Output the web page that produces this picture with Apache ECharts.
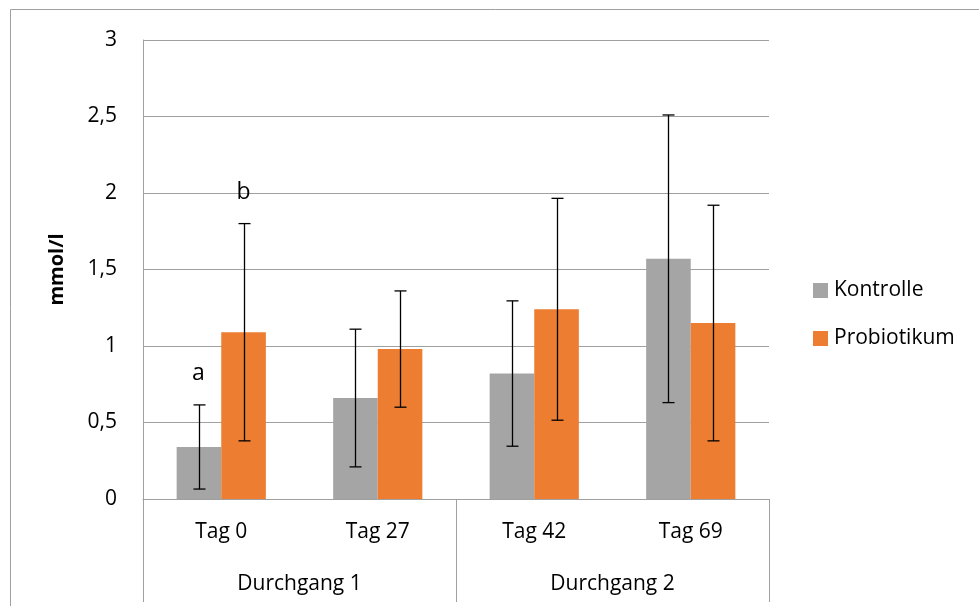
<!DOCTYPE html>
<html>
<head>
<meta charset="utf-8">
<script src="https://cdn.jsdelivr.net/npm/echarts@6/dist/echarts.min.js"></script>
<style>html,body{margin:0;padding:0;background:#fff;}#c{width:979px;height:606px;}</style>
</head>
<body>
<div id="c"></div>
<script>
const categories = ['Tag 0', 'Tag 27', 'Tag 42', 'Tag 69'];
const groups = ['Durchgang 1', 'Durchgang 2'];
const seriesNames = ['Kontrolle', 'Probiotikum'];
const kontrolle = [0.34, 0.66, 0.82, 1.57];
const probiotikum = [1.09, 0.98, 1.24, 1.15];
const kontrolleSD = [0.275, 0.45, 0.475, 0.94];
const probiotikumSD = [0.71, 0.38, 0.725, 0.77];
const kontrolleLetters = ['a', '', '', ''];
const probiotikumLetters = ['b', '', '', ''];
const yTicks = [0, 0.5, 1, 1.5, 2, 2.5, 3];

const FONT = 'Open Sans';
const FS = 21;
const barFraction = 0.57; // share of band used by both bars

function errSeries(name, means, sds, letters, side) {
  return {
    type: 'custom',
    name: name,
    xAxisIndex: 0,
    z: 5,
    silent: true,
    data: means.map((m, i) => [i, m, sds[i]]),
    renderItem: function (params, api) {
      const idx = api.value(0), mean = api.value(1), sd = api.value(2);
      const letter = letters[idx];
      const band = api.size([1, 0])[0];
      const off = side * band * barFraction / 4;
      const top = api.coord([idx, mean + sd]);
      const bot = api.coord([idx, mean - sd]);
      const x = Math.round(top[0] + off) + 0.5;
      const cap = 6;
      const st = { stroke: '#000', lineWidth: 1.3 };
      const children = [
        { type: 'line', shape: { x1: x, y1: top[1], x2: x, y2: bot[1] }, style: st },
        { type: 'line', shape: { x1: x - cap, y1: top[1], x2: x + cap, y2: top[1] }, style: st },
        { type: 'line', shape: { x1: x - cap, y1: bot[1], x2: x + cap, y2: bot[1] }, style: st }
      ];
      if (letter) {
        children.push({ type: 'text', x: x - 1, y: top[1] - 31,
          style: { text: letter, fill: '#000', font: '23px "' + FONT + '"', align: 'center', verticalAlign: 'middle' } });
      }
      return { type: 'group', children: children };
    }
  };
}

const chart = echarts.init(document.getElementById('c'), null, { renderer: 'canvas' });
chart.setOption({
  animation: false,
  backgroundColor: '#fff',
  textStyle: { fontFamily: FONT },
  graphic: [{
    type: 'rect', silent: true, z: -10,
    shape: { x: 10.5, y: 9.5, width: 1000, height: 700 },
    style: { fill: 'none', stroke: '#a0a0a0', lineWidth: 1 }
  }],
  grid: { left: 143, top: 40, right: 210, bottom: 107, containLabel: false },
  legend: {
    data: seriesNames,
    orient: 'vertical',
    left: 808, top: 275,
    itemWidth: 15, itemHeight: 15, itemGap: 27,
    icon: 'rect',
    textStyle: { fontSize: FS, color: '#000', fontFamily: FONT, padding: [0, 0, 0, 1] }
  },
  xAxis: [{
    type: 'category',
    data: categories,
    position: 'bottom',
    axisLine: { show: true, lineStyle: { color: '#a0a0a0', width: 1 } },
    axisTick: { show: false },
    axisLabel: { color: '#000', fontSize: FS, margin: 23, fontFamily: FONT },
    splitLine: { show: false }
  }, {
    type: 'category',
    data: groups,
    position: 'bottom',
    axisLine: { show: false },
    axisTick: { show: true, length: 103, lineStyle: { color: '#a0a0a0', width: 1 } },
    axisLabel: { color: '#000', fontSize: FS, margin: 75, fontFamily: FONT },
    splitLine: { show: false }
  }],
  yAxis: {
    type: 'value',
    min: 0, max: 3, interval: 0.5,
    name: 'mmol/l',
    nameLocation: 'middle',
    nameRotate: 90,
    nameGap: 76,
    nameTextStyle: { fontWeight: 'bold', fontSize: 20, color: '#000', fontFamily: FONT },
    axisLine: { show: true, lineStyle: { color: '#a0a0a0', width: 1 } },
    axisTick: { show: false },
    axisLabel: { color: '#000', fontSize: FS, margin: 26, fontFamily: FONT,
      formatter: v => yTicks.includes(v) ? String(v).replace('.', ',') : '' },
    splitLine: { show: true, lineStyle: { color: '#a0a0a0', width: 1 } }
  },
  series: [
    { name: seriesNames[0], type: 'bar', data: kontrolle, barGap: '0%', barCategoryGap: '43%',
      itemStyle: { color: '#a5a5a5' } },
    { name: seriesNames[1], type: 'bar', data: probiotikum, barGap: '0%', barCategoryGap: '43%',
      itemStyle: { color: '#ed7d31' } },
    errSeries('errK', kontrolle, kontrolleSD, kontrolleLetters, -1),
    errSeries('errP', probiotikum, probiotikumSD, probiotikumLetters, 1)
  ]
});
</script>
</body>
</html>
